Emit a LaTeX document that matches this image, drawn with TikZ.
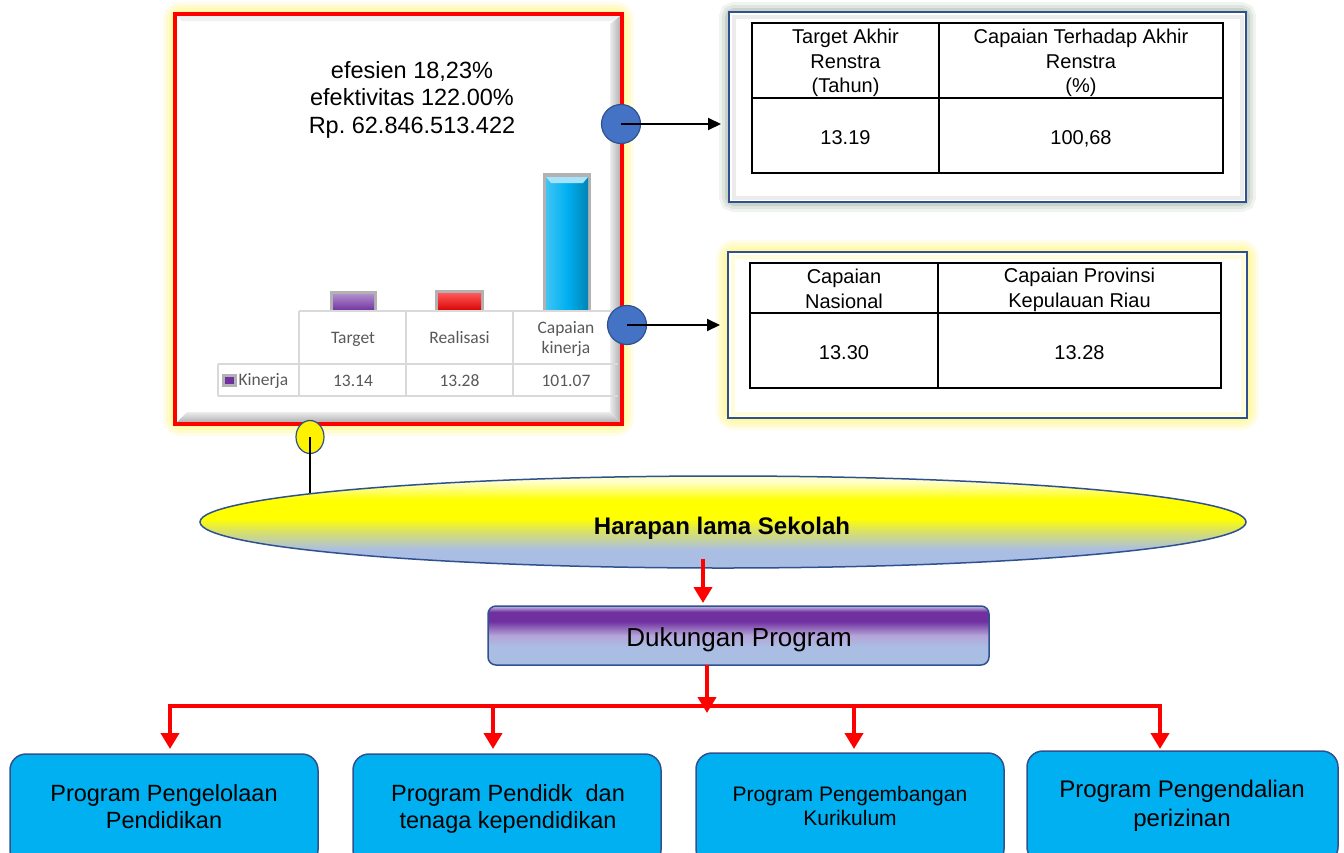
\documentclass[tikz,border=0pt]{standalone}
\usepackage{fontspec}
\setmainfont{Liberation Sans}
\newfontfamily\calib{Carlito}
\usetikzlibrary{shapes.geometric,arrows.meta}
\frenchspacing

\definecolor{dblue}{RGB}{47,82,143}
\definecolor{cblue}{RGB}{68,114,196}
\definecolor{cyanb}{RGB}{0,176,240}
\definecolor{lblue}{RGB}{170,190,228}
\definecolor{purp}{RGB}{112,48,160}
\definecolor{lav}{RGB}{180,165,215}
\definecolor{gtxt}{RGB}{89,89,89}
\definecolor{gline}{RGB}{217,217,217}
\definecolor{glowy}{RGB}{255,245,120}
\definecolor{glowg}{RGB}{140,160,140}
\colorlet{yelpale}{yellow!20}
\colorlet{yelblue}{yellow!55!lblue}

\pgfdeclareverticalshading{hlsshade}{100bp}{color(0bp)=(lblue); color(35bp)=(lblue); color(45bp)=(yelblue); color(52bp)=(yellow); color(62bp)=(yellow); color(72bp)=(yelpale); color(100bp)=(yelpale)}
\pgfdeclareverticalshading{dpshade}{100bp}{color(0bp)=(lblue); color(40bp)=(lblue); color(50bp)=(lav); color(62bp)=(purp); color(70bp)=(purp); color(74bp)=(lav); color(100bp)=(lav)}

\begin{document}
\begin{tikzpicture}[x=1pt,y=-1pt,
  every node/.style={inner sep=0pt, outer sep=0pt},
  redarr/.style={draw=red, line width=4.5pt, -{Triangle[length=16pt,width=18pt]}},
  blkarr/.style={draw=black, line width=2pt, -{Triangle[length=13pt,width=12pt]}},
  progbox/.style={draw=dblue, line width=1.5pt, fill=cyanb, rounded corners=16pt, minimum width=308pt, minimum height=112pt},
  bluedot/.style={circle, draw=dblue, line width=1.2pt, fill=cblue, minimum size=39pt},
  chartlbl/.style={font=\calib\fontsize{17.5}{20}\selectfont, text=gtxt, align=center},
  tbltxt/.style={font=\fontsize{20}{24.5}\selectfont, align=center},
  progtxt/.style={font=\fontsize{23.5}{27}\selectfont, align=center},
  tframe/.style={draw=dblue, line width=2.5pt, fill=white},
]
\useasboundingbox (0,0) rectangle (1344,852);
\clip (0,0) rectangle (1344,852);

% ---------- chart panel ----------
\foreach \w/\o in {24/0.18,18/0.22,12/0.28,6/0.35}
  \draw[glowy, line width=\w pt, opacity=\o, rounded corners=6pt] (175,14) rectangle (622,424);
\fill[white] (175,14) rectangle (622,424);
\shade[top color=gray!15, bottom color=gray!60] (177,422) -- (620,422) -- (610,412) -- (187,412) -- cycle;
\shade[left color=gray!15, right color=gray!60] (620,16) -- (620,422) -- (610,412) -- (610,24) -- cycle;
\fill[gray!12] (177,16) -- (620,16) -- (612,21) -- (182,21) -- cycle;
\draw[red, line width=4.5pt] (175,14) rectangle (622,424);

\node[font=\fontsize{23.5}{27.5}\selectfont, align=center] (eff) at (412,99.5)
  {efesien 18,23\%\\efektivitas 122.00\%\\Rp. 62.846.513.422};

% bars
\fill[gray!60] (330,291) rectangle (377,311);
\shade[top color=purp!55!white, bottom color=purp] (333,294) rectangle (374,311);
\fill[gray!60] (435,290) rectangle (484,311);
\shade[top color=red!65!white, bottom color=red!85!black] (438,293) rectangle (481,311);
\fill[gray!60] (543,173) rectangle (591,311);
\shade[left color=cyanb!75!white, right color=cyanb!75!black, middle color=cyanb] (546,177) rectangle (588,311);
\fill[cyanb!35!white] (546,177) -- (588,177) -- (583,183) -- (551,183) -- cycle;

% data table
\draw[gline, line width=1.5pt] (299,311) -- (618,311) (218,364) -- (618,364) (218,396) -- (618,396)
  (299,311) -- (299,396) (406,311) -- (406,396) (513,311) -- (513,396) (218,364) -- (218,396);
\node[chartlbl, anchor=base] (hT) at (353,343) {Target};
\node[chartlbl, anchor=base] (hR) at (459.5,343) {Realisasi};
\node[chartlbl] (hC) at (566,339) {Capaian\\kinerja};
\fill[gray!60] (222,374) rectangle (237,387);
\fill[purp] (225,377) rectangle (234,384);
\node[chartlbl, anchor=base west] (kin) at (238.5,385) {Kinerja};
\node[chartlbl, anchor=base] (vT) at (353,386) {13.14};
\node[chartlbl, anchor=base] (vR) at (459.5,386) {13.28};
\node[chartlbl, anchor=base] (vC) at (566,386) {101.07};

% ---------- right frames ----------
\foreach \w/\o in {20/0.12,14/0.18,8/0.25}
  \draw[glowg, line width=\w pt, opacity=\o, rounded corners=5pt] (729,12) rectangle (1246,202);
\node[tframe, minimum width=517pt, minimum height=190pt] (f1) at (987.5,107) {};
\draw[gray!15, line width=4pt] (733.5,16.5) rectangle (1241.5,197.5);
\draw[line width=1.2pt] (752,23) rectangle (1223,173) (939,23) -- (939,173) (752,98) -- (1223,98);
\node[tbltxt] (t1a) at (845.5,63) {Target Akhir\\Renstra\\(Tahun)};
\node[tbltxt] (t1b) at (1081,63) {Capaian Terhadap Akhir\\Renstra\\(\%)};
\node[tbltxt, anchor=base] (t1c) at (845.5,144) {13.19};
\node[tbltxt, anchor=base] (t1d) at (1081,144) {100,68};

\foreach \w/\o in {24/0.18,18/0.22,12/0.28,6/0.35}
  \draw[glowy, line width=\w pt, opacity=\o, rounded corners=6pt] (728,252) rectangle (1247,418);
\node[tframe, minimum width=519pt, minimum height=166pt] (f2) at (987.5,335) {};
\draw[yellow!15, line width=4pt] (732.5,256.5) rectangle (1242.5,413.5);
\draw[line width=1.2pt] (750,263) rectangle (1221,388) (938,263) -- (938,388) (750,313) -- (1221,313);
\node[tbltxt] (t2a) at (844,289) {Capaian\\Nasional};
\node[tbltxt] (t2b) at (1079.5,290) {Capaian Provinsi\\Kepulauan Riau};
\node[tbltxt, anchor=base] (t2c) at (844,359) {13.30};
\node[tbltxt, anchor=base] (t2d) at (1079.5,359) {13.28};

% ---------- dots and black connectors ----------
\node[bluedot] (c1) at (621,124) {};
\node[bluedot] (c2) at (627,325) {};
\draw[blkarr] (c1.center) -- ([xshift=-8pt]c1.center -| f1.west);
\draw[blkarr] (c2.center) -- ([xshift=-8pt]c2.center -| f2.west);

% ---------- ellipse ----------
\node[ellipse, draw=dblue, line width=1.5pt, shading=hlsshade, minimum width=1046pt, minimum height=92pt] (hls) at (723,522) {};
\node[font=\bfseries\fontsize{24}{28}\selectfont] (hlst) at (722,528) {Harapan lama Sekolah};
\node[ellipse, draw=dblue, line width=1.2pt, fill=yellow, minimum width=28pt, minimum height=33pt] (se) at (310,437) {};
\draw[line width=2.5pt] (se.center) -- (se.center |- hls.176);

% ---------- Dukungan Program ----------
\node[draw=dblue, line width=1.5pt, rounded corners=8pt, shading=dpshade, minimum width=501pt, minimum height=59pt] (dp) at (738.5,635.5) {};
\node[font=\fontsize{26}{30}\selectfont] (dpt) at (739,640) {Dukungan Program};

\coordinate (j0) at (703,559);
\draw[redarr, shorten >=3pt] (j0) -- (j0 |- dp.north);

\coordinate (k0) at (707,706);
\draw[redarr] (k0 |- dp.south) -- ([yshift=-7pt]k0);

% ---------- bottom boxes ----------
\node[progbox] (b1) at (164,810) {};
\node[progbox] (b2) at (507,810) {};
\node[progbox] (b3) at (850,809) {};
\node[progbox, minimum width=311pt] (b4) at (1182.5,807) {};
\node[progtxt] (b1t) at (164,807) {Program Pengelolaan\\Pendidikan};
\node[progtxt] (b2t) at (508,809) {Program Pendidk\ \ dan\\tenaga kependidikan};
\node[font=\fontsize{21}{23.5}\selectfont, align=center] (b3t) at (850,806) {Program Pengembangan\\Kurikulum};
\node[font=\fontsize{24}{28.5}\selectfont, align=center] (b4t) at (1182,806) {Program Pengendalian\\perizinan};

\coordinate (k1) at (170,706);
\coordinate (k2) at (493,706);
\coordinate (k3) at (854,706);
\coordinate (k4) at (1160,706);
\draw[red, line width=4.5pt, line cap=rect] (k1) -- (k4);
\draw[redarr, shorten >=5pt] (k1) -- (k1 |- b1.north);
\draw[redarr, shorten >=5pt] (k2) -- (k2 |- b2.north);
\draw[redarr, shorten >=4pt] (k3) -- (k3 |- b3.north);
\draw[redarr, shorten >=2pt] (k4) -- (k4 |- b4.north);
\end{tikzpicture}
\end{document}
